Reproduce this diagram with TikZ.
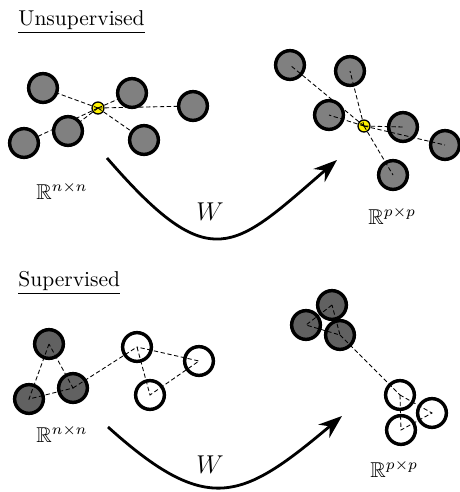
\documentclass[tikz,border=0pt]{standalone}
\usepackage{amsmath,amssymb}
\usepackage{tikz}
\usetikzlibrary{arrows.meta}
\pgfdeclarelayer{bg}
\pgfsetlayers{bg,main}

\begin{document}
\begin{tikzpicture}[x=0.01635cm, y=-0.01635cm,
  pt/.style={circle, draw, line width=1.6pt, minimum size=0.47cm, inner sep=0pt},
  grey/.style={pt, fill=black!50},
  dark/.style={pt, fill=black!62},
  light/.style={pt, fill=white},
  mean/.style={circle, draw, line width=0.6pt, fill=yellow, minimum size=0.196cm, inner sep=0pt},
  link/.style={dash pattern=on 2pt off 1.2pt, line width=0.4pt},
  map/.style={line width=1.3pt, -{Stealth[length=11pt,width=8pt]}},
  lab/.style={anchor=base west, inner sep=0pt}]
\useasboundingbox (0,0) rectangle (460,492);

% unsupervised
\node[lab] (tu) at (18,25) {\underline{Unsupervised}};
\foreach \i/\x/\y in {1/43/88, 2/132/93, 3/193/106, 4/68/131, 5/24/143, 6/144/140}
  \node[grey] (u\i) at (\x,\y) {};
\begin{pgfonlayer}{bg}
\node[mean] (m1) at (98,108) {};
\foreach \i in {1,...,6}
  \draw[link] (m1.center) -- (u\i.center);
\end{pgfonlayer}

\node[mean] (m2) at (364,126) {};
\foreach \i/\x/\y in {1/290/65, 2/350/71, 3/329/115, 4/403/127, 5/445/145, 6/393/175}
  \node[grey] (v\i) at (\x,\y) {};
\foreach \i in {1,...,6}
  \draw[link] (m2.center) -- (v\i.center);

\node[lab] (r1) at (36,199) {$\mathbb{R}^{n\times n}$};
\node[lab] (r2) at (368,224) {$\mathbb{R}^{p\times p}$};

\coordinate (a1) at (107,158);
\coordinate (a2) at (337,160);
\draw[map] (a1) .. controls +(104,120) and +(-104,90) .. (a2);
\node (w1) at (210,212) {\large $W$};

% supervised
\node[lab] (ts) at (18,286) {\underline{Supervised}};
\foreach \i/\x/\y in {1/49/344, 2/29/399, 3/73/388}
  \node[dark] (s\i) at (\x,\y) {};
\foreach \i/\x/\y in {4/137/347, 5/199/361, 6/150/395}
  \node[light] (s\i) at (\x,\y) {};
\draw[link] (s1.center) -- (s2.center) -- (s3.center) -- cycle;
\draw[link] (s3.center) -- (s4.center);
\draw[link] (s4.center) -- (s6.center) -- (s5.center) -- cycle;

\foreach \i/\x/\y in {1/332/305, 2/306/325, 3/340/335}
  \node[dark] (t\i) at (\x,\y) {};
\foreach \i/\x/\y in {4/400/395, 5/432/413, 6/401/430}
  \node[light] (t\i) at (\x,\y) {};
\draw[link] (t1.center) -- (t2.center) -- (t3.center) -- cycle;
\draw[link] (t3.center) -- (t4.center);
\draw[link] (t4.center) -- (t6.center) -- (t5.center) -- cycle;

\node[lab] (r3) at (36,442) {$\mathbb{R}^{n\times n}$};
\node[lab] (r4) at (370,477) {$\mathbb{R}^{p\times p}$};

\coordinate (b1) at (108,427);
\coordinate (b2) at (342,416);
\draw[map] (b1) .. controls +(100,90) and +(-100,84) .. (b2);
\node (w2) at (210,465) {\large $W$};
\end{tikzpicture}
\end{document}
